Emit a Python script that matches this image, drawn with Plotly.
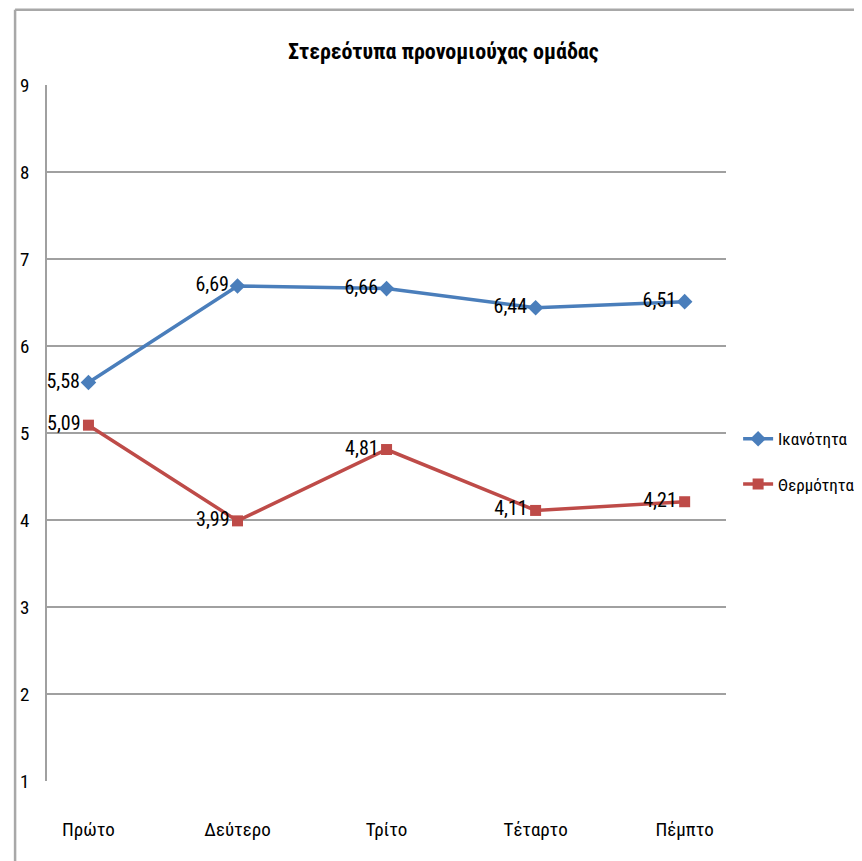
import plotly.graph_objects as go

categories = ["Πρώτο", "Δεύτερο", "Τρίτο", "Τέταρτο", "Πέμπτο"]
ikanotita = [5.58, 6.69, 6.66, 6.44, 6.51]
thermotita = [5.09, 3.99, 4.81, 4.11, 4.21]
y_ticks = [1, 2, 3, 4, 5, 6, 7, 8, 9]

FONT = "Liberation Sans Narrow, Roboto Condensed, Arial Narrow, sans-serif"

def fmt(vals):
    return [f"{v:.2f}".replace(".", ",") for v in vals]

fig = go.Figure()
fig.add_trace(go.Scatter(
    x=categories, y=ikanotita, name="Ικανότητα", mode="lines+markers+text",
    line=dict(color="#4A7EBB", width=3.5),
    marker=dict(symbol="diamond", size=12, color="#4A7EBB"),
    text=fmt(ikanotita), textposition="middle left",
    textfont=dict(family=FONT, size=20, color="#000000"),
    legendgroup="a", cliponaxis=False,
))
fig.add_trace(go.Scatter(
    x=categories, y=thermotita, name="Θερμότητα", mode="lines+markers+text",
    line=dict(color="#BE4B48", width=3.5),
    marker=dict(symbol="square", size=11, color="#BE4B48"),
    text=fmt(thermotita), textposition="middle left",
    textfont=dict(family=FONT, size=20, color="#000000"),
    legendgroup="b", cliponaxis=False,
))

border = dict(color="#A8A8A8", width=2.5)

fig.update_layout(
    width=862, height=861,
    margin=dict(l=34, r=140, t=77, b=88),
    paper_bgcolor="white", plot_bgcolor="white",
    font=dict(family=FONT, size=19, color="#000000"),
    title=dict(text="<b>Στερεότυπα προνομιούχας ομάδας</b>", x=0.505, xanchor="center",
               y=0.95, yanchor="middle", font=dict(family=FONT, size=22)),
    showlegend=True,
    legend=dict(xref="container", yref="container", x=0.847, y=0.473,
                xanchor="left", yanchor="middle", itemwidth=30,
                font=dict(family=FONT, size=17), tracegroupgap=20,
                bgcolor="rgba(0,0,0,0)"),
    xaxis=dict(showgrid=False, showline=False, zeroline=False,
               ticks="", ticklabelstandoff=35,
               tickfont=dict(family=FONT, size=19)),
    yaxis=dict(range=[1, 9], tickvals=y_ticks, showgrid=True,
               gridcolor="#A0A0A0", gridwidth=1.5,
               showline=True, linecolor="#A0A0A0", linewidth=1.5,
               zeroline=False, ticks="", ticklabelstandoff=12,
               tickfont=dict(family=FONT, size=19)),
    shapes=[
        dict(type="line", xref="paper", yref="paper",
             x0=-0.047, x1=1.2, y0=1.108, y1=1.108, line=border, layer="below"),
        dict(type="line", xref="paper", yref="paper",
             x0=-0.047, x1=-0.047, y0=-0.13, y1=1.108, line=border, layer="below"),
    ],
)

fig.write_html("out.html")
